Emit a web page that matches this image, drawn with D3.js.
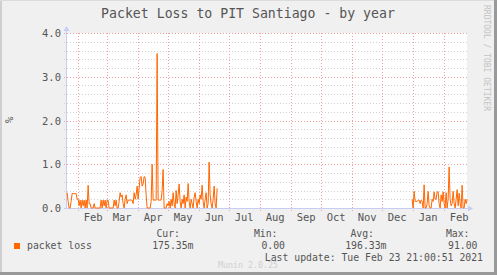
<!DOCTYPE html>
<html>
<head>
<meta charset="utf-8">
<script src="https://cdn.jsdelivr.net/npm/d3@7"></script>
<style>
  body { margin: 0; background: #f0f0f0; }
  svg text { font-family: "DejaVu Sans Mono", monospace; }
</style>
</head>
<body>
<div id="chart"></div>
<script>
// daily packet loss (%), two runs of data with a gap between
let seg1Start = '2020-01-21';
let seg1Values = [
  0.35, 0.15, 0.0, 0.0, 0.15, 0.33, 0.33, 0.33, 0.33, 0.33,
  0.2, 0.2, 0.05, 0.18, 0.0, 0.18, 0.05, 0.18, 0.0, 0.18,
  0.0, 0.52, 0.1, 0.1, 0.0, 0.0, 0.0, 0.1, 0.0, 0.0,
  0.0, 0.0, 0.0, 0.0, 0.18, 0.0, 0.18, 0.05, 0.18, 0.0,
  0.18, 0.18, 0.0, 0.0, 0.0, 0.0, 0.0, 0.18, 0.05, 0.18,
  0.0, 0.0, 0.15, 0.35, 0.25, 0.3, 0.1, 0.0, 0.2, 0.3,
  0.1, 0.18, 0.18, 0.18, 0.18, 0.18, 0.1, 0.35, 0.2, 0.3,
  0.5, 0.2, 0.45, 0.7, 0.72, 0.5, 0.55, 0.72, 0.7, 0.3,
  0.0, 0.0, 0.0, 0.0, 0.15, 1.0, 0.18, 0.18, 0.18, 0.18,
  3.53, 0.18, 0.18, 0.18, 0.18, 0.4, 0.88, 0.0, 0.0, 0.0,
  0.1, 0.05, 0.15, 0.0, 0.2, 0.05, 0.35, 0.1, 0.0, 0.4,
  0.1, 0.3, 0.55, 0.15, 0.0, 0.2, 0.1, 0.3, 0.0, 0.25,
  0.15, 0.56, 0.15, 0.0, 0.2, 0.1, 0.0, 0.25, 0.35, 0.15,
  0.0, 0.2, 0.1, 0.3, 0.2, 0.52, 0.15, 0.0, 0.2, 0.35,
  0.0, 0.1, 1.05, 0.3, 0.1, 0.0, 0.2, 0.5, 0.1, 0.0,
  0.45
];
let seg2Start = '2020-12-31';
let seg2Values = [
  0.2, 0.0, 0.38, 0.15, 0.15, 0.15, 0.18, 0.18, 0.1, 0.18,
  0.15, 0.0, 0.53, 0.0, 0.0, 0.1, 0.38, 0.05, 0.0, 0.0,
  0.2, 0.15, 0.37, 0.2, 0.2, 0.37, 0.37, 0.1, 0.0, 0.3,
  0.15, 0.37, 0.1, 0.0, 0.35, 0.0, 0.2, 0.94, 0.2, 0.05,
  0.1, 0.38, 0.1, 0.0, 0.2, 0.42, 0.05, 0.34, 0.1, 0.0,
  0.52, 0.0, 0.0, 0.2, 0.1, 0.2
];

let yMajor = [0, 1, 2, 3, 4];
let yMajorLabels = ['0.0', '1.0', '2.0', '3.0', '4.0'];

let legendHeads = ['Cur:', 'Min:', 'Avg:', 'Max:'];
let legendValues = ['175.35m', '0.00', '196.33m', '91.00'];

let title = 'Packet Loss to PIT Santiago - by year';
let lastUpdate = 'Last update: Tue Feb 23 21:00:51 2021';

let width = 497;
let height = 275;
let lineColor = '#ff6600';

let parseDay = d3.timeParse('%Y-%m-%d');
let toPoints = (start, values) =>
  values.map((v, i) => ({ date: d3.timeDay.offset(parseDay(start), i), value: v }));
let segments = [toPoints(seg1Start, seg1Values), toPoints(seg2Start, seg2Values)];

let svg = d3.select('#chart').append('svg')
  .attr('width', width)
  .attr('height', height);

// frame
svg.append('rect').attr('width', width).attr('height', height).attr('fill', '#f0f0f0');
svg.append('rect').attr('x', 0).attr('y', 0).attr('width', 2).attr('height', height).attr('fill', '#cfcfcf');
svg.append('rect').attr('x', 0).attr('y', 0).attr('width', width).attr('height', 1).attr('fill', '#dcdcdc');
svg.append('rect').attr('x', width - 3).attr('y', 0).attr('width', 3).attr('height', height).attr('fill', '#999');
svg.append('rect').attr('x', 0).attr('y', height - 3).attr('width', width).attr('height', 3).attr('fill', '#999');

let x = d3.scaleTime()
  .domain([new Date(2020, 0, 20, 21), new Date(2021, 1, 23, 21)])
  .range([67, 467]);
let y = d3.scaleLinear().domain([0, 4]).range([208, 33]);

// canvas
svg.append('rect')
  .attr('x', 67).attr('y', 33)
  .attr('width', 400).attr('height', 175)
  .attr('fill', '#fff');

// minor horizontal grid
let grid = svg.append('g');
d3.range(0, 4.01, 0.2).filter(v => Math.abs(v - Math.round(v)) > 0.01).forEach(v => {
  grid.append('line')
    .attr('x1', 64).attr('x2', 467)
    .attr('y1', Math.round(y(v)) + 0.5).attr('y2', Math.round(y(v)) + 0.5)
    .attr('stroke', '#d0d0d0')
    .attr('stroke-dasharray', '1,2');
});

// month grid
let months = d3.timeMonth.range(x.domain()[0], x.domain()[1]);
months.forEach(m => {
  grid.append('line')
    .attr('x1', Math.round(x(m)) + 0.5).attr('x2', Math.round(x(m)) + 0.5)
    .attr('y1', 33).attr('y2', 211)
    .attr('stroke', '#f0a0a0')
    .attr('stroke-dasharray', '1,2');
});

// major horizontal grid
yMajor.forEach(v => {
  grid.append('line')
    .attr('x1', 64).attr('x2', 467)
    .attr('y1', Math.round(y(v)) + 0.5).attr('y2', Math.round(y(v)) + 0.5)
    .attr('stroke', '#f0a0a0')
    .attr('stroke-dasharray', '1,2');
});

// y labels
svg.append('g').selectAll('text')
  .data(yMajor)
  .enter().append('text')
  .attr('x', 61)
  .attr('y', v => y(v) + 4)
  .attr('text-anchor', 'end')
  .attr('font-size', 10.5)
  .attr('fill', '#555')
  .text((v, i) => yMajorLabels[i]);

// month labels, centred inside each month
let labelDays = d3.timeMonth.range(d3.timeMonth.floor(x.domain()[0]), x.domain()[1])
  .map(m => d3.timeDay.offset(m, 15))
  .filter(d => x(d) > 70 && x(d) < 470);
svg.append('g').selectAll('text')
  .data(labelDays)
  .enter().append('text')
  .attr('x', d => x(d))
  .attr('y', 221)
  .attr('text-anchor', 'middle')
  .attr('font-size', 10.5)
  .attr('fill', '#555')
  .text(d3.timeFormat('%b'));

// axes with arrows
let axisColor = '#c8ccf4';
svg.append('line')
  .attr('x1', 66.5).attr('x2', 66.5).attr('y1', 30).attr('y2', 209)
  .attr('stroke', axisColor);
svg.append('line')
  .attr('x1', 64).attr('x2', 469).attr('y1', 208.5).attr('y2', 208.5)
  .attr('stroke', axisColor);
svg.append('path')
  .attr('d', 'M63.5,31 L69.5,31 L66.5,26 Z')
  .attr('fill', axisColor);
svg.append('path')
  .attr('d', 'M468,205.5 L468,211.5 L473,208.5 Z')
  .attr('fill', axisColor);

// the data line
let line = d3.line()
  .x(d => x(d.date))
  .y(d => y(d.value));
svg.append('g').selectAll('path')
  .data(segments)
  .enter().append('path')
  .attr('d', line)
  .attr('fill', 'none')
  .attr('stroke', lineColor)
  .attr('stroke-width', 1);

// title
svg.append('text')
  .attr('x', 248).attr('y', 18)
  .attr('text-anchor', 'middle')
  .attr('font-size', 13.2)
  .attr('fill', '#555')
  .text(title);

// unit label
svg.append('text')
  .attr('transform', 'translate(13,120) rotate(-90)')
  .attr('text-anchor', 'middle')
  .attr('font-size', 11)
  .attr('fill', '#555')
  .text('%');

// watermark on the right
svg.append('text')
  .attr('transform', 'translate(484,5) rotate(90)')
  .attr('font-size', 8)
  .attr('fill', '#c4c4c4')
  .text('RRDTOOL / TOBI OETIKER');

// legend
svg.append('rect')
  .attr('x', 14).attr('y', 243).attr('width', 6).attr('height', 6)
  .attr('fill', lineColor);
svg.append('text')
  .attr('x', 27).attr('y', 249)
  .attr('font-size', 9.8)
  .attr('fill', '#555')
  .text('packet loss');

let headRight = [180, 277.5, 374, 469.5];
let valueRight = [193.5, 285, 386.5, 477.5];
legendHeads.forEach((h, i) => {
  svg.append('text')
    .attr('x', headRight[i]).attr('y', 237)
    .attr('text-anchor', 'end')
    .attr('font-size', 9.8)
    .attr('fill', '#555')
    .text(h);
  svg.append('text')
    .attr('x', valueRight[i]).attr('y', 249)
    .attr('text-anchor', 'end')
    .attr('font-size', 9.8)
    .attr('fill', '#555')
    .text(legendValues[i]);
});

svg.append('text')
  .attr('x', 483).attr('y', 261)
  .attr('text-anchor', 'end')
  .attr('font-size', 9.8)
  .attr('fill', '#555')
  .text(lastUpdate);

svg.append('text')
  .attr('x', 248).attr('y', 267.5)
  .attr('text-anchor', 'middle')
  .attr('font-size', 8.3)
  .attr('fill', '#cfcfcf')
  .text('Munin 2.0.25');
</script>
</body>
</html>
